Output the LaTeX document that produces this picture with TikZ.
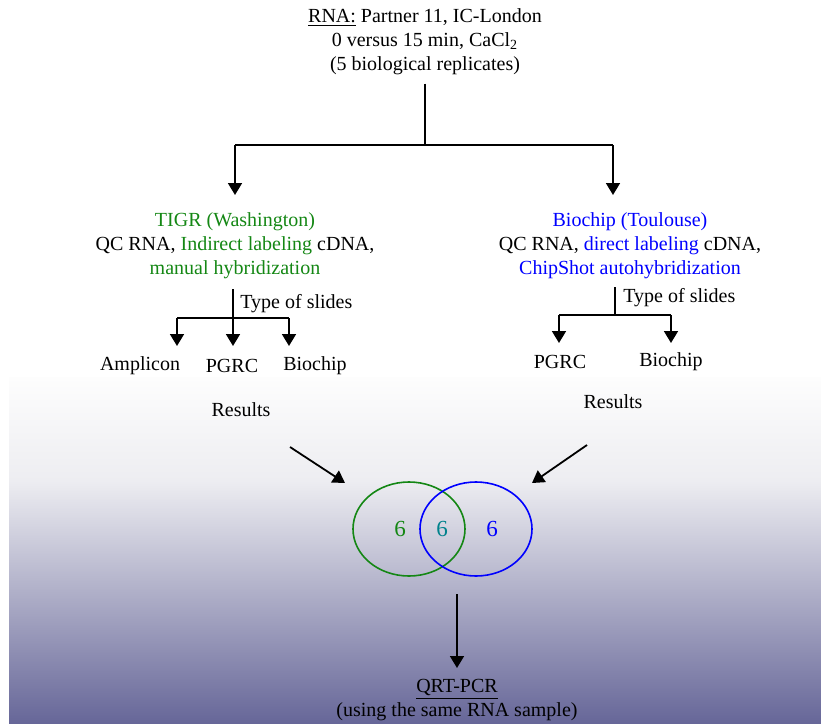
\documentclass[tikz,border=0pt]{standalone}
\usepackage{fontspec}
\setmainfont{Liberation Serif}
\usetikzlibrary{arrows.meta,shapes.geometric}

\definecolor{tigrgreen}{RGB}{20,135,20}
\definecolor{chipblue}{RGB}{0,0,255}
\definecolor{bothteal}{RGB}{0,130,140}
\definecolor{bgtop}{RGB}{253,253,253}
\definecolor{bgmid}{RGB}{237,237,241}
\definecolor{bgbot}{RGB}{102,102,152}
\pgfdeclareverticalshading{bgfade}{100bp}{color(0bp)=(bgbot); color(25bp)=(bgbot); color(60bp)=(bgmid); color(75bp)=(bgtop); color(100bp)=(bgtop)}

\tikzset{
  txt/.style={font=\fontsize{10}{12}\selectfont, align=center, inner sep=1pt},
  num/.style={font=\fontsize{11.5}{12}\selectfont, inner sep=0pt},
  link/.style={line width=0.9pt},
  arr/.style={line width=0.9pt, -{Triangle[length=6pt,width=7pt]}},
  venn/.style={draw, ellipse, line width=0.8pt, minimum width=56pt, minimum height=47pt, inner sep=0pt}
}

\begin{document}
\begin{tikzpicture}[x=0.5pt,y=-0.5pt]
\useasboundingbox (0,0) rectangle (821,724);
% background fade
\shade[shading=bgfade] (9,377) rectangle (821,724);

% source
\node[txt] (rna) at (425,42) {\underline{RNA:} Partner 11, IC-London\\0 versus 15 min, CaCl\textsubscript{2}\\(5 biological replicates)};
\coordinate (split) at (425,145);
\coordinate (splitL) at (235,145);
\coordinate (splitR) at (613,145);
\coordinate (tigrin) at (235,195);
\coordinate (chipin) at (613,195);
\draw[link] (split |- rna.south) ++(0,6) -- (split);
\draw[link] (splitL) -- (splitR);
\draw[arr] (splitL) -- (tigrin);
\draw[arr] (splitR) -- (chipin);

% the two labs
\node[txt] (tigr) at (235,246) {\textcolor{tigrgreen}{TIGR (Washington)}\\QC RNA, \textcolor{tigrgreen}{Indirect labeling} cDNA,\\\textcolor{tigrgreen}{manual hybridization}};
\node[txt] (chip) at (630,246) {\textcolor{chipblue}{Biochip (Toulouse)}\\QC RNA, \textcolor{chipblue}{direct labeling} cDNA,\\\textcolor{chipblue}{ChipShot autohybridization}};

% slides, left
\coordinate (tjoin) at (233,318);
\coordinate (tstem) at (233,289);
\draw[link] (tstem) -- (tjoin);
\node[txt, anchor=west] (tslides) at (238,304) {Type of slides};
\coordinate (tjoinA) at (177,318);
\coordinate (tjoinC) at (289,318);
\draw[link] (tjoinA) -- (tjoinC);
\foreach \p in {tjoinA,tjoin,tjoinC}
  \draw[arr] (\p) -- ++(0,28);
\node[txt] (tamp) at (140,366) {Amplicon};
\node[txt] (tpgrc) at (232,366) {PGRC};
\node[txt] (tbio) at (315,366) {Biochip};
\node[txt] (tres) at (241,410) {Results};

% slides, right
\coordinate (cjoin) at (615,315);
\coordinate (cstem) at (615,287);
\draw[link] (cstem) -- (cjoin);
\node[txt, anchor=west] (cslides) at (621,298) {Type of slides};
\coordinate (cjoinA) at (559,315);
\coordinate (cjoinB) at (671,315);
\draw[link] (cjoinA) -- (cjoinB);
\foreach \p in {cjoinA,cjoinB}
  \draw[arr] (\p) -- ++(0,28);
\node[txt] (cpgrc) at (560,362) {PGRC};
\node[txt] (cbio) at (671,362) {Biochip};
\node[txt] (cres) at (613,402) {Results};

% overlap of the two sets
\node[venn, tigrgreen] (tset) at (409,529) {};
\node[venn, chipblue] (cset) at (476,529) {};
\node[num, text=tigrgreen] (tonly) at (400,529) {6};
\node[num, text=bothteal] (both) at (442,529) {6};
\node[num, text=chipblue] (conly) at (492,529) {6};
\coordinate (tresout) at (290,447);
\coordinate (cresout) at (587,445);
\coordinate (tsetin) at (345,483);
\coordinate (csetin) at (532,483);
\draw[arr] (tresout) -- (tsetin);
\draw[arr] (cresout) -- (csetin);

% validation
\node[txt] (qrt) at (457,700) {\underline{QRT-PCR}\\(using the same RNA sample)};
\coordinate (qrtout) at (457,594);
\coordinate (qrtin) at (457,668);
\draw[arr] (qrtout) -- (qrtin);
\end{tikzpicture}
\end{document}
